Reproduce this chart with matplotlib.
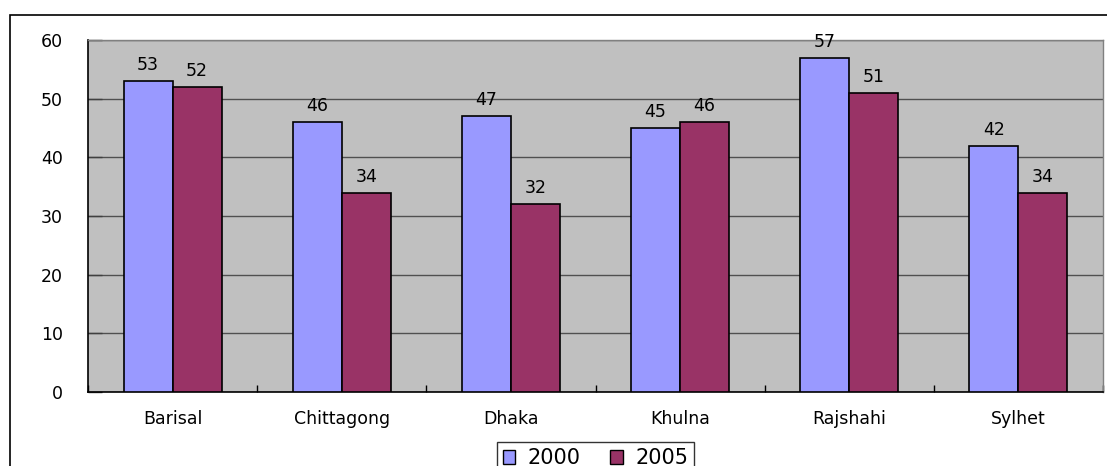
import matplotlib
matplotlib.use("Agg")
import matplotlib.pyplot as plt
from matplotlib.patches import Rectangle
import numpy as np

# Division-level figures for two survey years
divisions = ["Barisal", "Chittagong", "Dhaka", "Khulna", "Rajshahi", "Sylhet"]
values_2000 = [53, 46, 47, 45, 57, 42]
values_2005 = [52, 34, 32, 46, 51, 34]
series_labels = ["2000", "2005"]
y_ticks = [0, 10, 20, 30, 40, 50, 60]

color_2000 = "#9999FF"
color_2005 = "#993366"

plt.rcParams["font.family"] = ["DejaVu Sans"]

fig = plt.figure(figsize=(11.07, 4.66), dpi=100)
ax = fig.add_axes([88 / 1107, 1 - 392 / 466, (1103 - 88) / 1107, (392 - 40) / 466])
ax.set_facecolor("#C0C0C0")

x = np.arange(len(divisions))
w = 0.29
b1 = ax.bar(x - w / 2, values_2000, w, color=color_2000, edgecolor="black",
            linewidth=1.2, label=series_labels[0], zorder=3)
b2 = ax.bar(x + w / 2, values_2005, w, color=color_2005, edgecolor="black",
            linewidth=1.2, label=series_labels[1], zorder=3)

for bars in (b1, b2):
    ax.bar_label(bars, labels=[str(v) for v in bars.datavalues], padding=5,
                 fontsize=12.5, color="black")

ax.set_xlim(-0.5, len(divisions) - 0.5)
ax.set_ylim(0, 60)
ax.set_yticks(y_ticks)
ax.set_yticklabels([str(t) for t in y_ticks], fontsize=12.5)
ax.set_xticks(x)
ax.set_xticklabels(divisions, fontsize=12.5)
ax.tick_params(axis="x", length=0, pad=13)
ax.tick_params(axis="y", direction="in", length=10, width=1, pad=18, color="#404040")

# Minor ticks between categories along the baseline
ax.set_xticks(np.arange(-0.5, len(divisions), 1.0), minor=True)
ax.tick_params(axis="x", which="minor", direction="in", length=5, width=1)

ax.yaxis.grid(True, color="#505050", linewidth=1.0, zorder=1)
ax.set_axisbelow(True)

for side in ("left", "bottom"):
    ax.spines[side].set_color("black")
    ax.spines[side].set_linewidth(1.2)
for side in ("top", "right"):
    ax.spines[side].set_color("#808080")
    ax.spines[side].set_linewidth(1.0)

leg = ax.legend(loc="upper center", bbox_to_anchor=(0.5, -0.142), ncol=2,
                frameon=True, fancybox=False, edgecolor="black", fontsize=15,
                handlelength=0.6, handleheight=0.6, handletextpad=0.6,
                columnspacing=1.4, borderpad=0.3, borderaxespad=0)
leg.get_frame().set_linewidth(1.0)
for h in leg.legend_handles:
    h.set_linewidth(1.0)

# Outer chart frame, extending past the right and bottom edges
frame = Rectangle((10 / 1107, -0.1), 1.2, 1 - 15 / 466 + 0.1,
                  transform=fig.transFigure, fill=False, edgecolor="black",
                  linewidth=1.2)
fig.patches.append(frame)

fig.savefig("out.png", dpi=100)
